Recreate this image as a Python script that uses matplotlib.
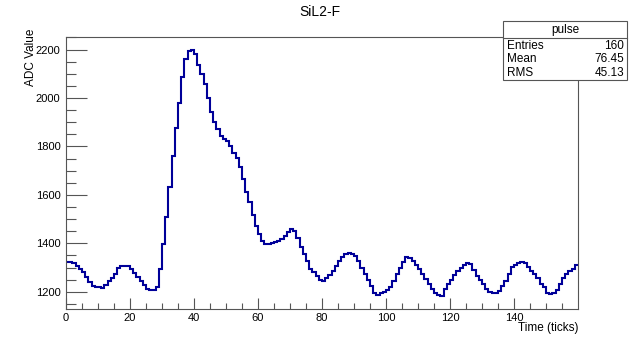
import matplotlib
matplotlib.use("Agg")
import matplotlib.pyplot as plt
import numpy as np
from matplotlib.patches import Rectangle
from matplotlib.lines import Line2D

plt.rcParams['font.family'] = ['Liberation Sans', 'DejaVu Sans']

# Pulse histogram contents, one value per time tick (160 bins over 0..160)
adc_values = [
    1324, 1322, 1320, 1308, 1294, 1280, 1262, 1240, 1222, 1218,
    1220, 1215, 1228, 1243, 1258, 1275, 1300, 1307, 1306, 1305,
    1295, 1278, 1262, 1245, 1228, 1211, 1206, 1208, 1220, 1294,
    1397, 1507, 1634, 1762, 1876, 1980, 2088, 2162, 2193, 2198,
    2182, 2138, 2100, 2058, 2000, 1941, 1900, 1872, 1845, 1831,
    1822, 1800, 1774, 1752, 1716, 1666, 1614, 1569, 1517, 1473,
    1440, 1408, 1397, 1398, 1400, 1404, 1410, 1418, 1431, 1445,
    1459, 1452, 1422, 1386, 1358, 1328, 1294, 1280, 1266, 1248,
    1245, 1256, 1269, 1284, 1307, 1328, 1342, 1356, 1362, 1358,
    1349, 1328, 1300, 1273, 1248, 1225, 1197, 1188, 1193, 1200,
    1207, 1218, 1245, 1273, 1300, 1321, 1342, 1339, 1328, 1312,
    1294, 1273, 1252, 1232, 1211, 1195, 1188, 1182, 1211, 1234,
    1250, 1268, 1287, 1300, 1312, 1317, 1314, 1290, 1266, 1248,
    1232, 1211, 1201, 1193, 1193, 1204, 1225, 1245, 1273, 1303,
    1312, 1317, 1321, 1317, 1303, 1287, 1273, 1256, 1234, 1218,
    1197, 1190, 1197, 1207, 1232, 1256, 1273, 1284, 1294, 1310,
]
x_low, x_high = 0, 160
x_major = [0, 20, 40, 60, 80, 100, 120, 140]
y_major = [1200, 1400, 1600, 1800, 2000, 2200]

title = "SiL2-F"
hist_name = "pulse"
stats_rows = [("Entries", "160"), ("Mean", "76.45"), ("RMS", "45.13")]

W, H = 641, 337
fig = plt.figure(figsize=(W / 100, H / 100), dpi=100)

# frame in pixel coordinates
fl, fr, ft, fb = 66, 578, 37, 308.5
ax = fig.add_axes([fl / W, 1 - fb / H, (fr - fl) / W, (fb - ft) / H])

edges = np.linspace(x_low, x_high, len(adc_values) + 1)
ax.stairs(adc_values, edges, baseline=None, color='#000099', linewidth=1.5)

ax.set_xlim(x_low, x_high)
ax.set_ylim(1131, 2252)

frame_col = '#555555'
for s in ax.spines.values():
    s.set_color(frame_col)
    s.set_linewidth(0.8)

ax.set_xticks(x_major)
ax.set_xticks(np.arange(x_low, x_high, 5), minor=True)
ax.set_yticks(y_major)
ax.set_yticks(np.arange(1150, 2251, 50), minor=True)
ax.tick_params(axis='both', which='both', direction='in', colors=frame_col,
               labelcolor='black', labelsize=8, width=0.8)
ax.tick_params(axis='x', which='major', length=8, pad=3)
ax.tick_params(axis='x', which='minor', length=4)
ax.tick_params(axis='y', which='major', length=15, pad=4)
ax.tick_params(axis='y', which='minor', length=7.5)

# axis titles aligned to the axis ends
fig.text(578 / W, 1 - 328 / H, "Time (ticks)", ha='right', va='center', fontsize=8.5)
fig.text(31 / W, 1 - 29 / H, "ADC Value", ha='center', va='top', rotation=90, fontsize=8.5)

fig.text(320 / W, 1 - 12 / H, title, ha='center', va='center', fontsize=10)

# statistics box
bx0, bx1, by0, by1, bhead = 503, 627, 21, 80, 38
fig.add_artist(Rectangle((bx0 / W, 1 - by1 / H), (bx1 - bx0) / W, (by1 - by0) / H,
                         transform=fig.transFigure, facecolor='white',
                         edgecolor=frame_col, linewidth=0.8, zorder=5))
fig.add_artist(Line2D([bx0 / W, bx1 / W], [1 - bhead / H, 1 - bhead / H],
                      transform=fig.transFigure, color=frame_col, linewidth=0.8, zorder=6))
fig.text((bx0 + bx1) / 2 / W, 1 - 30 / H, hist_name, ha='center', va='center',
         fontsize=8.5, zorder=7)
row_y = [46, 59.5, 73]
for (lab, val), ry in zip(stats_rows, row_y):
    fig.text(507 / W, 1 - ry / H, lab, ha='left', va='center', fontsize=8.5, zorder=7)
    fig.text(624 / W, 1 - ry / H, val, ha='right', va='center', fontsize=8.5, zorder=7)

fig.savefig("out.png", dpi=100)
